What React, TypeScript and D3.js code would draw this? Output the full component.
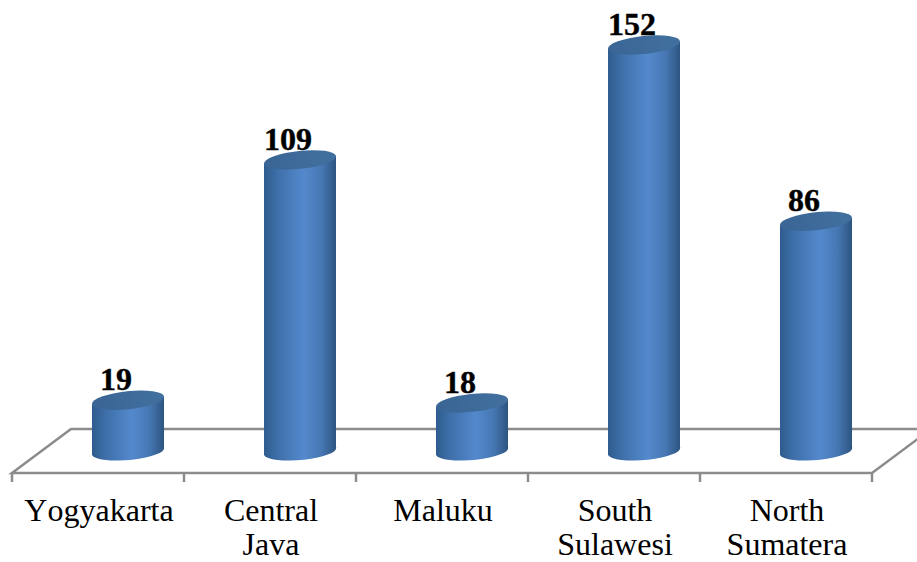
import { scaleBand, scaleLinear } from "d3"

const categories = [["Yogyakarta"], ["Central", "Java"], ["Maluku"], ["South", "Sulawesi"], ["North", "Sumatera"]]
const values = [19, 109, 18, 152, 86]

const width = 917
const height = 562
const floorFront = 473
const floorBack = 429
const floorLeft = 12
const floorRight = 872
const depthX = 59
const barWidth = 72
const barShift = 30
const rx = barWidth / 2
const ry = 9
const tilt = 4

const keys = categories.map((c) => c.join(" "))
const xScale = scaleBand<string>().domain(keys).range([floorLeft, floorRight])
const yScale = scaleLinear().domain([0, 152]).range([451, 45])

export default function App() {
  return (
    <svg
      width={width}
      height={height}
      viewBox={`0 0 ${width} ${height}`}
      style={{ position: "absolute", left: 0, top: 0, background: "#fff" }}
      fontFamily="'Liberation Serif', serif"
    >
      <defs>
        <linearGradient id="side" x1="0" x2="1" y1="0" y2="0">
          <stop offset="0" stopColor="#2f5c8f" />
          <stop offset="0.2" stopColor="#3f70aa" />
          <stop offset="0.55" stopColor="#5389cd" />
          <stop offset="0.8" stopColor="#4677b2" />
          <stop offset="1" stopColor="#2c5480" />
        </linearGradient>
        <linearGradient id="cap" x1="0" x2="1" y1="0" y2="0">
          <stop offset="0" stopColor="#3a6595" />
          <stop offset="1" stopColor="#41709f" />
        </linearGradient>
      </defs>

      <g fill="none" stroke="#8c8c8c" strokeWidth={2.5}>
        <path d={`M${floorLeft},${floorFront}L${floorLeft + depthX},${floorBack}L${floorRight + depthX},${floorBack}L${floorRight},${floorFront}Z`} />
        {[...keys.map((k) => xScale(k) ?? 0), floorRight].map((tick) => (
          <line key={tick} x1={tick} x2={tick} y1={floorFront} y2={floorFront + 9} />
        ))}
      </g>

      {values.map((value, i) => {
        const cx = (xScale(keys[i]) ?? 0) + xScale.bandwidth() / 2 + barShift
        const top = yScale(value)
        const base = yScale(0)
        const x0 = cx - rx
        const x1 = cx + rx
        return (
          <g key={keys[i]}>
            <path
              d={`M${x0},${top + tilt}L${x0},${base + tilt}A${rx},${ry} -5 0 0 ${x1},${base - tilt}L${x1},${top - tilt}Z`}
              fill="url(#side)"
            />
            <ellipse cx={cx} cy={top} rx={rx + 0.2} ry={ry} transform={`rotate(-6 ${cx} ${top})`} fill="url(#cap)" />
            <text x={cx - 12} y={top - 10} textAnchor="middle" fontSize={32} fontWeight="bold" stroke="#000" strokeWidth={0.4} fill="#000">
              {value}
            </text>
          </g>
        )
      })}

      {categories.map((lines, i) =>
        lines.map((line, j) => (
          <text
            key={line}
            x={(xScale(keys[i]) ?? 0) + xScale.bandwidth() / 2 + 1}
            y={520.5 + j * 34.5}
            textAnchor="middle"
            fontSize={32}
            style={{ fontKerning: "none" }}
            fill="#000"
          >
            {line}
          </text>
        )),
      )}
    </svg>
  )
}
